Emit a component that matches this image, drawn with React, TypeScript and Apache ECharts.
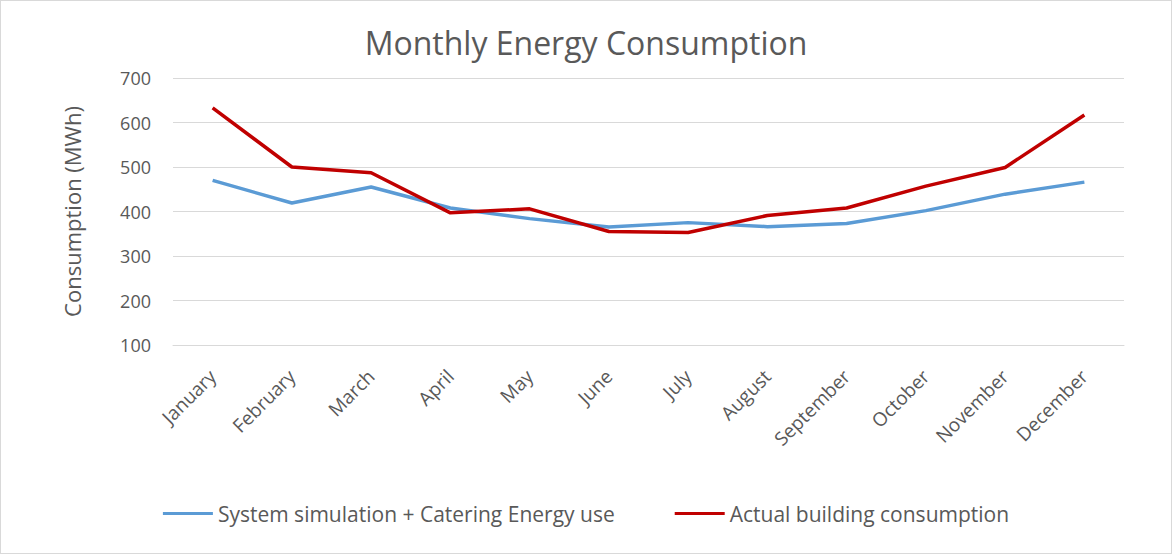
import React, { useEffect, useRef } from "react";
import * as echarts from "echarts";

const months = ["January", "February", "March", "April", "May", "June", "July", "August", "September", "October", "November", "December"];
const simulated = [470, 419, 455, 408, 384, 365, 375, 366, 373, 402, 439, 466];
const actual = [633, 500, 487, 397, 406, 355, 353, 391, 408, 457, 499, 617];
const seriesNames = ["System simulation + Catering Energy use", "Actual building consumption"];

const FONT = "'Open Sans', 'Liberation Sans', sans-serif";
const TXT = "#595959";

export default function App() {
  const ref = useRef<HTMLDivElement>(null);
  useEffect(() => {
    document.body.style.margin = "0";
    const chart = echarts.init(ref.current!, undefined, { renderer: "svg" });
    chart.setOption({
      animation: false,
      backgroundColor: "#ffffff",
      textStyle: { fontFamily: FONT, color: TXT },
      title: {
        text: "Monthly Energy Consumption",
        left: "center",
        top: 20,
        textStyle: { fontFamily: FONT, fontSize: 32, fontWeight: "normal", color: TXT },
      },
      legend: {
        bottom: 24,
        left: "center",
        itemWidth: 50,
        itemHeight: 3,
        itemGap: 60,
        icon: "rect",
        textStyle: { fontFamily: FONT, fontSize: 21, color: TXT },
        data: seriesNames,
      },
      grid: { left: 172, right: 47, top: 77, bottom: 208 },
      xAxis: {
        type: "category",
        data: months,
        boundaryGap: true,
        axisLine: { lineStyle: { color: "#D9D9D9", width: 1 } },
        axisTick: { show: false },
        axisLabel: { rotate: 45, fontSize: 19, color: TXT, fontFamily: FONT, margin: 28, interval: 0 },
      },
      yAxis: {
        type: "value",
        min: 100,
        max: 700,
        interval: 100,
        name: "Consumption (MWh)",
        nameLocation: "middle",
        nameGap: 90,
        nameTextStyle: { fontSize: 22, color: TXT, fontFamily: FONT },
        axisLine: { show: false },
        axisTick: { show: false },
        axisLabel: { fontSize: 18, color: TXT, fontFamily: FONT, margin: 22 },
        splitLine: { lineStyle: { color: "#D9D9D9", width: 1 } },
      },
      series: [
        {
          name: seriesNames[0],
          type: "line",
          data: simulated,
          symbol: "none",
          itemStyle: { color: "#5B9BD5" },
          lineStyle: { color: "#5B9BD5", width: 3.5 },
        },
        {
          name: seriesNames[1],
          type: "line",
          data: actual,
          symbol: "none",
          itemStyle: { color: "#C00000" },
          lineStyle: { color: "#C00000", width: 3.5 },
        },
      ],
    });
    return () => chart.dispose();
  }, []);
  return (
    <div
      ref={ref}
      style={{
        position: "absolute",
        left: 0,
        top: 0,
        width: 1172,
        height: 554,
        boxSizing: "border-box",
        border: "1px solid #D9D9D9",
      }}
    />
  );
}
